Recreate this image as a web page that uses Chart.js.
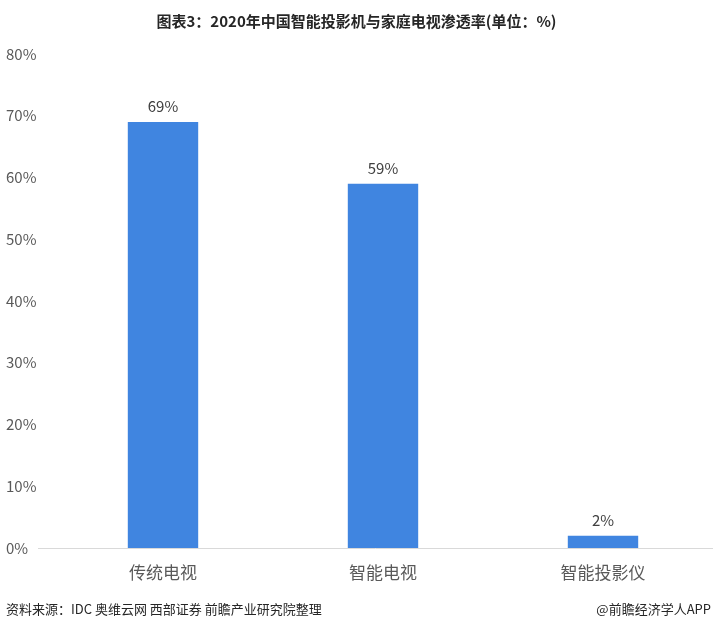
<!DOCTYPE html>
<html>
<head>
<meta charset="utf-8">
<script src="https://cdn.jsdelivr.net/npm/chart.js@4/dist/chart.umd.min.js"></script>
<style>
  html, body { margin: 0; padding: 0; background: #fff; }
  #wrap { width: 713px; height: 630px; position: relative; }
</style>
</head>
<body>
<div id="wrap"><canvas id="chart" width="713" height="630"></canvas></div>
<script>
const categories = ['传统电视', '智能电视', '智能投影仪'];
const penetration = [69, 59, 2];
const yTicks = [0, 10, 20, 30, 40, 50, 60, 70, 80];

const titleText = '图表3：2020年中国智能投影机与家庭电视渗透率(单位：%)';
const sourceText = '资料来源：IDC 奥维云网 西部证券 前瞻产业研究院整理';
const brandText = '@前瞻经济学人APP';

const FONT = '"Microsoft YaHei", "Noto Sans CJK SC", "Noto Sans", sans-serif';

// текст поверх графика: заголовок, подписи значений, базовая линия, источник
const decorations = {
  id: 'decorations',
  afterDatasetsDraw(chart) {
    const { ctx, chartArea } = chart;
    const meta = chart.getDatasetMeta(0);
    ctx.save();

    ctx.strokeStyle = '#d9d9d9';
    ctx.lineWidth = 1;
    ctx.beginPath();
    ctx.moveTo(38, chartArea.bottom + 0.5);
    ctx.lineTo(chart.width, chartArea.bottom + 0.5);
    ctx.stroke();

    ctx.fillStyle = '#404040';
    ctx.font = `15px ${FONT}`;
    ctx.textAlign = 'center';
    ctx.textBaseline = 'bottom';
    meta.data.forEach((bar, i) => {
      ctx.fillText(`${penetration[i]}%`, bar.x, bar.y - 8);
    });

    ctx.fillStyle = '#262626';
    ctx.font = `bold 15px ${FONT}`;
    ctx.textBaseline = 'middle';
    ctx.fillText(titleText, chart.width / 2, 21);

    ctx.font = `13px ${FONT}`;
    ctx.fillStyle = '#262626';
    ctx.textAlign = 'left';
    ctx.fillText(sourceText, 6, 609);
    ctx.textAlign = 'right';
    ctx.fillText(brandText, chart.width - 2, 609);

    ctx.restore();
  }
};

new Chart(document.getElementById('chart'), {
  type: 'bar',
  data: {
    labels: categories,
    datasets: [{
      data: penetration,
      backgroundColor: '#4085e0',
      barPercentage: 0.32,
      categoryPercentage: 1
    }]
  },
  options: {
    responsive: false,
    animation: false,
    layout: { padding: { top: 54, left: 6, right: 0, bottom: 42 } },
    plugins: { legend: { display: false }, tooltip: { enabled: false } },
    scales: {
      x: {
        grid: { display: false },
        border: { display: false },
        ticks: { color: '#595959', font: { family: FONT, size: 17 }, padding: 6 },
        afterFit: (s) => { s.height = 40; }
      },
      y: {
        min: 0,
        max: 80,
        afterBuildTicks: (s) => { s.ticks = yTicks.map((v) => ({ value: v })); },
        grid: { display: false },
        border: { display: false },
        ticks: {
          color: '#595959',
          font: { family: FONT, size: 15 },
          crossAlign: 'far',
          callback: (v) => `${v}%`
        },
        afterFit: (s) => { s.width = 47; }
      }
    }
  },
  plugins: [decorations]
});
</script>
</body>
</html>
